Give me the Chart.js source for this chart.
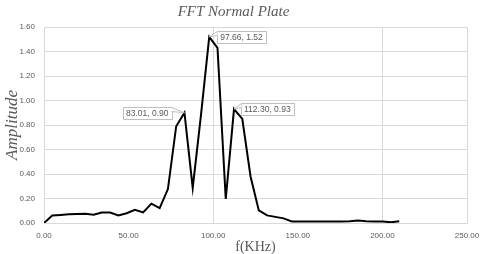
<!DOCTYPE html>
<html>
<head>
<meta charset="utf-8">
<script src="https://cdn.jsdelivr.net/npm/chart.js@4.4.1/dist/chart.umd.min.js"></script>
<style>
  html, body { margin: 0; padding: 0; background: #fff; }
  #wrap { width: 489px; height: 254px; position: relative; }
</style>
</head>
<body>
<div id="wrap"><canvas id="chart"></canvas></div>
<script>
// frequency bins (kHz)
const freqs = [
  0.00, 4.88, 9.77, 14.65, 19.53, 24.41, 29.30, 34.18, 39.06, 43.95,
  48.83, 53.71, 58.59, 63.48, 68.36, 73.24, 78.13, 83.01, 87.89, 92.77,
  97.66, 102.54, 107.42, 112.30, 117.19, 122.07, 126.95, 131.84, 136.72, 141.60,
  146.48, 151.37, 156.25, 161.13, 166.02, 170.90, 175.78, 180.66, 185.55, 190.43,
  195.31, 200.20, 205.08, 209.96
];

const amplitude = [
  0.000, 0.062, 0.066, 0.071, 0.074, 0.075, 0.068, 0.085, 0.085, 0.062,
  0.080, 0.108, 0.087, 0.158, 0.122, 0.277, 0.790, 0.900, 0.286, 0.880,
  1.520, 1.430, 0.196, 0.930, 0.850, 0.380, 0.103, 0.062, 0.050, 0.038,
  0.012, 0.012, 0.012, 0.012, 0.012, 0.012, 0.013, 0.014, 0.020, 0.015,
  0.013, 0.012, 0.006, 0.014
];

// indices of the labelled peaks
const labelledPoints = [17, 20, 23];

const xTicks = { min: 0, max: 250, step: 50 };
const yTicks = { min: 0, max: 1.6, step: 0.2 };

const grey = '#595959';
const gridColor = '#d9d9d9';

const calloutPlugin = {
  id: 'callouts',
  afterDatasetsDraw(chart) {
    const { ctx } = chart;
    const meta = chart.getDatasetMeta(0);
    // box placement relative to the point: [dx, dy] of the box's anchor side
    const place = {
      17: { side: 'left', dx: -13, dy: 0 },
      20: { side: 'right', dx: 8, dy: 0 },
      23: { side: 'right', dx: 7, dy: 0 }
    };
    ctx.save();
    ctx.font = '8.5px "Liberation Sans", Arial, sans-serif';
    ctx.textBaseline = 'middle';
    labelledPoints.forEach((i) => {
      const pt = meta.data[i];
      const text = `${freqs[i].toFixed(2)}, ${amplitude[i].toFixed(2)}`;
      const w = ctx.measureText(text).width + 6;
      const h = 12;
      const p = place[i];
      const boxX = p.side === 'left' ? pt.x + p.dx - w : pt.x + p.dx;
      const boxY = pt.y + p.dy - h / 2;

      ctx.fillStyle = '#fff';
      ctx.strokeStyle = '#bfbfbf';
      ctx.lineWidth = 1;
      ctx.beginPath();
      ctx.rect(Math.round(boxX) + 0.5, Math.round(boxY) + 0.5, Math.round(w), h);
      ctx.fill();
      ctx.stroke();

      // pointer wedge towards the point
      const edgeX = p.side === 'left' ? Math.round(boxX + w) + 0.5 : Math.round(boxX) + 0.5;
      ctx.beginPath();
      ctx.moveTo(edgeX, Math.round(boxY) + 0.5);
      ctx.lineTo(pt.x, pt.y);
      ctx.lineTo(edgeX, Math.round(boxY) + 4.5);
      ctx.fill();
      ctx.stroke();

      ctx.fillStyle = grey;
      ctx.textAlign = 'left';
      ctx.fillText(text, boxX + 3, boxY + h / 2 + 1);
    });
    ctx.restore();
  }
};

new Chart(document.getElementById('chart'), {
  type: 'line',
  data: {
    datasets: [{
      data: freqs.map((f, i) => ({ x: f, y: amplitude[i] })),
      borderColor: '#000',
      borderWidth: 2,
      pointRadius: 0,
      tension: 0,
      fill: false
    }]
  },
  options: {
    responsive: true,
    maintainAspectRatio: false,
    animation: false,
    layout: { padding: { left: 0, right: 22, top: 0, bottom: 0 } },
    plugins: {
      legend: { display: false },
      tooltip: { enabled: false },
      title: {
        display: true,
        text: 'FFT Normal Plate',
        color: grey,
        font: { family: '"Liberation Serif", "DejaVu Serif", serif', size: 15, style: 'italic', weight: 'normal', lineHeight: 1.2 },
        padding: { top: 3, bottom: 6 }
      }
    },
    scales: {
      x: {
        type: 'linear',
        min: xTicks.min,
        max: xTicks.max,
        ticks: {
          stepSize: xTicks.step,
          color: grey,
          padding: 8,
          maxRotation: 0,
          font: { family: '"Liberation Sans", Arial, sans-serif', size: 8 },
          callback: (v) => Number(v).toFixed(2)
        },
        grid: {
          drawTicks: false,
          color: (c) => (c.tick && (c.tick.value % 100 === 0 || c.tick.value === 250)) ? gridColor : 'rgba(0,0,0,0)'
        },
        border: { color: gridColor },
        title: {
          display: true,
          text: 'f(KHz)',
          color: grey,
          font: { family: '"Liberation Serif", "DejaVu Serif", serif', size: 14, lineHeight: 1 },
          padding: { top: 0, bottom: 0 }
        },
        afterFit: (scale) => { scale.height = 31; }
      },
      y: {
        min: yTicks.min,
        max: yTicks.max,
        ticks: {
          stepSize: yTicks.step,
          color: grey,
          padding: 9,
          font: { family: '"Liberation Sans", Arial, sans-serif', size: 8 },
          callback: (v) => Number(v).toFixed(2)
        },
        grid: { drawTicks: false, color: gridColor },
        border: { color: gridColor },
        title: {
          display: true,
          text: 'Amplitude',
          color: grey,
          font: { family: '"Liberation Serif", "DejaVu Serif", serif', size: 17, style: 'italic', lineHeight: 1.2 },
          padding: { top: 2, bottom: 0 }
        },
        afterFit: (scale) => { scale.width = 44; }
      }
    }
  },
  plugins: [calloutPlugin]
});
</script>
</body>
</html>
